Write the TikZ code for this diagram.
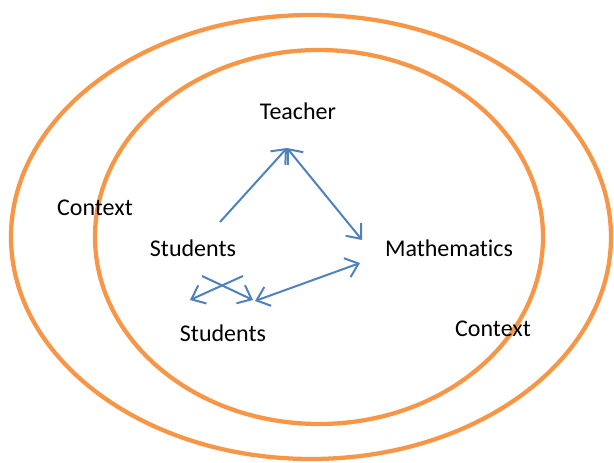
\documentclass[tikz,border=0pt]{standalone}
\usepackage{fontspec}
\setmainfont{Carlito}[Ligatures=NoCommon]
\usetikzlibrary{arrows.meta}
\definecolor{ringorange}{RGB}{247,150,70}
\definecolor{linkblue}{RGB}{79,129,189}

\begin{document}
\begin{tikzpicture}[x=0.75pt,y=-0.75pt,
  ring/.style={draw=ringorange, line width=3.2pt},
  label/.style={font=\fontsize{18}{22}\selectfont, text=black, inner sep=1pt},
  link/.style={draw=linkblue, line width=1.5pt, arrows={-Straight Barb[length=9pt,width=15pt,line width=1.5pt]}},
  twolink/.style={link, arrows={Straight Barb[length=9pt,width=15pt,line width=1.5pt]-Straight Barb[length=9pt,width=15pt,line width=1.5pt]}}]
\useasboundingbox (0,0) rectangle (614,463);

\draw[ring] (311,237) ellipse [x radius=300, y radius=222];
\draw[ring] (319,237) ellipse [x radius=224, y radius=187];

\node[label] (teacher) at (298,111) {Teacher};
\node[label] (students) at (193,248) {Students};
\node[label] (maths) at (449,248) {Mathematics};
\node[label] (peers) at (223,333) {Students};
\node[label] (ctxleft) at (95,208) {Context};
\node[label] (ctxright) at (493,329) {Context};

\coordinate (s-top) at (220,222);
\coordinate (t-tip) at (287,148);
\coordinate (m-top) at (362,240);
\coordinate (m-low) at (360,263);
\coordinate (p-tip) at (255,301);
\coordinate (x-left) at (243,276);
\coordinate (x-right) at (202,276);
\coordinate (p-left) at (190,300);
\coordinate (p-right) at (253,300);

\draw[link] (s-top) -- (t-tip);
\draw[twolink] (t-tip) -- (m-top);
\draw[twolink] (m-low) -- (p-tip);
\draw[link] (x-left) -- (p-left);
\draw[link] (x-right) -- (p-right);
\end{tikzpicture}
\end{document}
